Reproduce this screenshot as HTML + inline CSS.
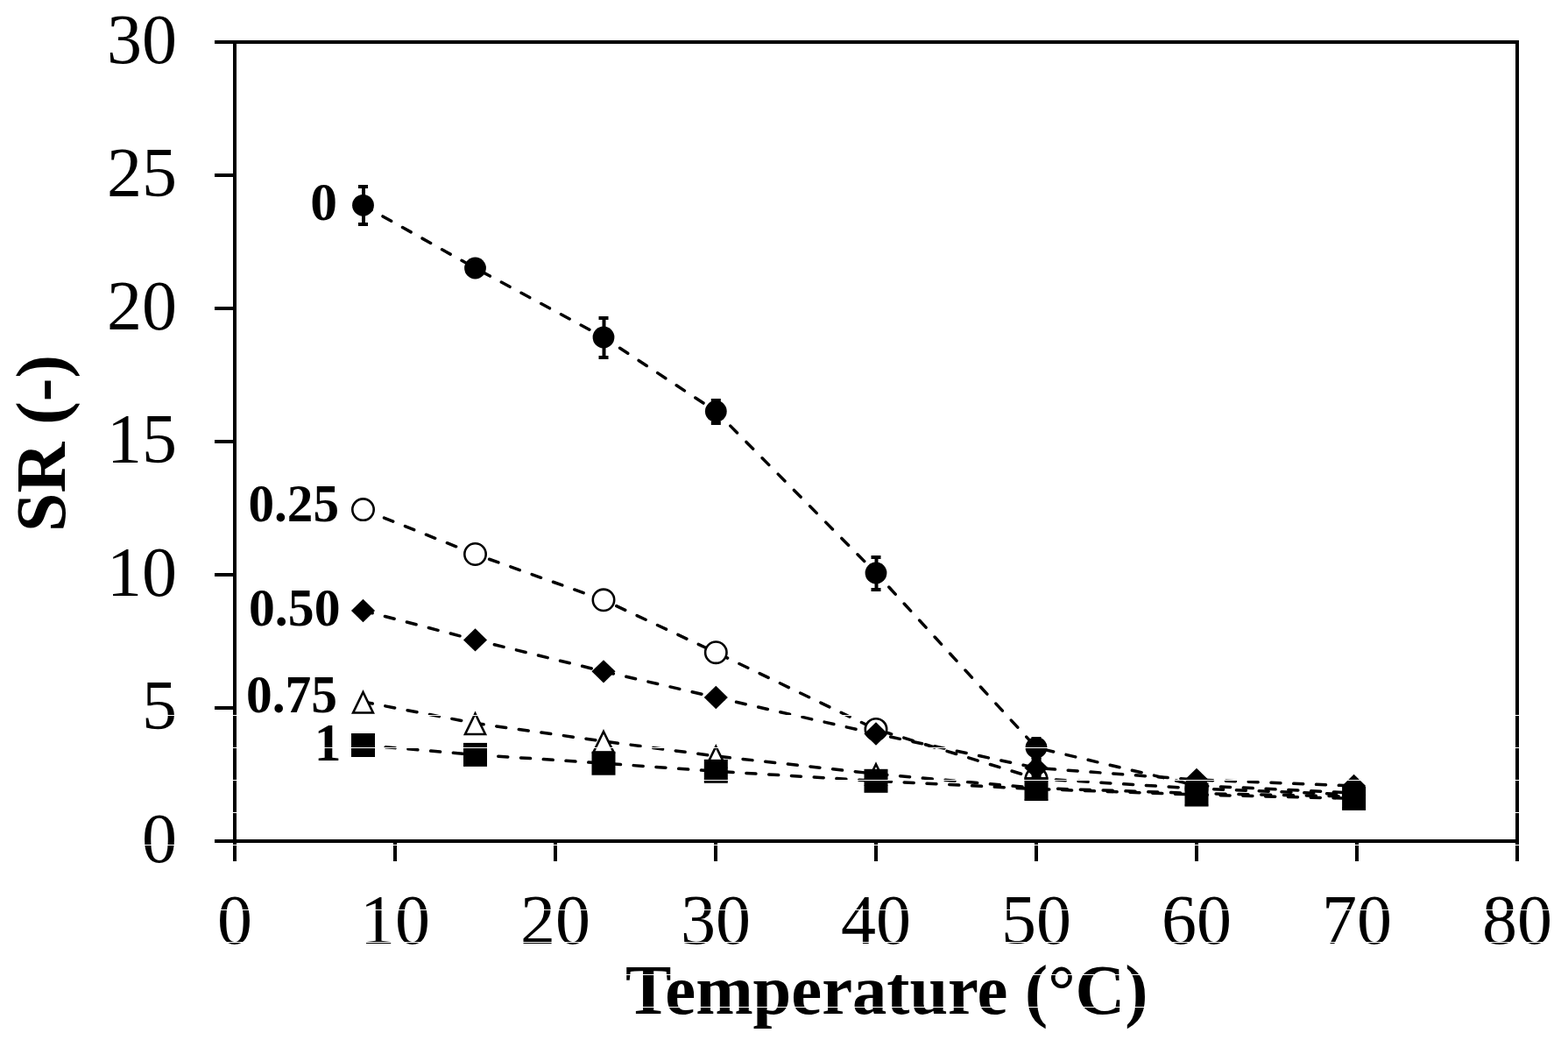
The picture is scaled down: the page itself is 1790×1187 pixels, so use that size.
<!DOCTYPE html>
<html lang="en"><head><meta charset="utf-8"><title>SR vs Temperature</title>
<style>
html,body{margin:0;padding:0;background:#fff;}
body{width:1790px;height:1187px;overflow:hidden;}
svg{display:block;}
text{font-family:"Liberation Serif","DejaVu Serif",serif;fill:#000;}
.tick{font-size:80px;}
.title{font-size:80px;font-weight:bold;}
.lab{font-size:61.5px;font-weight:bold;}
.ln{fill:none;stroke:#000;stroke-width:3.5;stroke-dasharray:11 14.8;stroke-linecap:round;stroke-linejoin:round;}
.ax{fill:#000;}
</style></head><body>
<svg width="1790" height="1187" viewBox="0 0 1790 1187">
<rect x="0" y="0" width="1790" height="1187" fill="#fff"/>
<g class="ax" shape-rendering="crispEdges">
<rect x="245" y="46" width="1489" height="4"/>
<rect x="245" y="958" width="1489" height="4"/>
<rect x="266" y="46" width="4" height="937"/>
<rect x="1730" y="46" width="4" height="937"/>
<rect x="245" y="806" width="23" height="4"/>
<rect x="245" y="654" width="23" height="4"/>
<rect x="245" y="502" width="23" height="4"/>
<rect x="245" y="350" width="23" height="4"/>
<rect x="245" y="198" width="23" height="4"/>
<rect x="449" y="960" width="4" height="23"/>
<rect x="632" y="960" width="4" height="23"/>
<rect x="815" y="960" width="4" height="23"/>
<rect x="998" y="960" width="4" height="23"/>
<rect x="1181" y="960" width="4" height="23"/>
<rect x="1364" y="960" width="4" height="23"/>
<rect x="1547" y="960" width="4" height="23"/>
</g>
<text class="tick" x="202" y="984" text-anchor="end">0</text>
<text class="tick" x="202" y="832" text-anchor="end">5</text>
<text class="tick" x="202" y="680" text-anchor="end">10</text>
<text class="tick" x="202" y="528" text-anchor="end">15</text>
<text class="tick" x="202" y="376" text-anchor="end">20</text>
<text class="tick" x="202" y="224" text-anchor="end">25</text>
<text class="tick" x="202" y="72" text-anchor="end">30</text>
<text class="tick" x="268" y="1077" text-anchor="middle">0</text>
<text class="tick" x="451" y="1077" text-anchor="middle">10</text>
<text class="tick" x="634" y="1077" text-anchor="middle">20</text>
<text class="tick" x="817" y="1077" text-anchor="middle">30</text>
<text class="tick" x="1000" y="1077" text-anchor="middle">40</text>
<text class="tick" x="1183" y="1077" text-anchor="middle">50</text>
<text class="tick" x="1366" y="1077" text-anchor="middle">60</text>
<text class="tick" x="1549" y="1077" text-anchor="middle">70</text>
<text class="tick" x="1732" y="1077" text-anchor="middle">80</text>
<text class="title" transform="translate(1012.3,1157) scale(0.982,1)" text-anchor="middle">Temperature (°C)</text>
<text class="title" transform="translate(73.5,506) rotate(-90)" text-anchor="middle">SR (-)</text>
<polyline class="ln" points="414.5,234.3 542.5,306.0 689.0,385.0 817.3,469.5 1000.0,654.0 1183.0,853.3 1366.0,896.6 1545.6,905.0"/>
<rect x="413.0" y="211" width="4" height="47"/>
<rect x="409.0" y="211" width="11" height="4"/>
<rect x="409.0" y="254" width="11" height="4"/>
<circle cx="414.5" cy="234.3" r="12.4"/>
<circle cx="542.5" cy="306.0" r="12.4"/>
<rect x="687.5" y="361" width="4" height="49"/>
<rect x="683.5" y="361" width="11" height="4"/>
<rect x="683.5" y="406" width="11" height="4"/>
<circle cx="689.0" cy="385.0" r="12.4"/>
<rect x="815.8" y="455" width="4" height="30"/>
<rect x="811.8" y="455" width="11" height="4"/>
<rect x="811.8" y="481" width="11" height="4"/>
<circle cx="817.3" cy="469.5" r="12.4"/>
<rect x="998.5" y="634" width="4" height="41"/>
<rect x="994.5" y="634" width="11" height="4"/>
<rect x="994.5" y="671" width="11" height="4"/>
<circle cx="1000.0" cy="654.0" r="12.4"/>
<rect x="1181.5" y="841" width="4" height="25"/>
<rect x="1177.5" y="841" width="11" height="4"/>
<rect x="1177.5" y="862" width="11" height="4"/>
<circle cx="1183.0" cy="853.3" r="12.4"/>
<circle cx="1366.0" cy="896.6" r="12.4"/>
<circle cx="1545.6" cy="905.0" r="12.4"/>
<polyline class="ln" points="414.5,581.6 542.5,632.5 689.0,684.8 817.3,744.7 1000.0,832.4 1183.0,888.6 1366.0,900.0 1545.6,907.0"/>
<circle cx="414.5" cy="581.6" r="12.2" fill="#fff" stroke="#000" stroke-width="2.6"/>
<circle cx="542.5" cy="632.5" r="12.2" fill="#fff" stroke="#000" stroke-width="2.6"/>
<circle cx="689.0" cy="684.8" r="12.2" fill="#fff" stroke="#000" stroke-width="2.6"/>
<circle cx="817.3" cy="744.7" r="12.2" fill="#fff" stroke="#000" stroke-width="2.6"/>
<circle cx="1000.0" cy="832.4" r="12.2" fill="#fff" stroke="#000" stroke-width="2.6"/>
<circle cx="1183.0" cy="888.6" r="12.2" fill="#fff" stroke="#000" stroke-width="2.6"/>
<circle cx="1366.0" cy="900.0" r="12.2" fill="#fff" stroke="#000" stroke-width="2.6"/>
<circle cx="1545.6" cy="907.0" r="12.2" fill="#fff" stroke="#000" stroke-width="2.6"/>
<polyline class="ln" points="414.5,697.0 542.5,730.4 689.0,766.3 817.3,796.0 1000.0,837.5 1183.0,876.5 1366.0,890.0 1545.6,897.0"/>
<polygon points="414.50,683.85 428.05,697.00 414.50,710.15 400.95,697.00"/>
<polygon points="542.50,717.25 556.05,730.40 542.50,743.55 528.95,730.40"/>
<polygon points="689.00,753.15 702.55,766.30 689.00,779.45 675.45,766.30"/>
<polygon points="817.30,782.85 830.85,796.00 817.30,809.15 803.75,796.00"/>
<polygon points="1000.00,824.35 1013.55,837.50 1000.00,850.65 986.45,837.50"/>
<polygon points="1183.00,863.35 1196.55,876.50 1183.00,889.65 1169.45,876.50"/>
<polygon points="1366.00,876.85 1379.55,890.00 1366.00,903.15 1352.45,890.00"/>
<polygon points="1545.60,883.85 1559.15,897.00 1545.60,910.15 1532.05,897.00"/>
<rect x="1181.5" y="865" width="4" height="22"/>
<rect x="1177.6" y="883" width="11" height="4"/>
<rect x="1177.6" y="865" width="11" height="4"/>
<polyline class="ln" points="414.5,801.0 542.5,825.5 689.0,846.0 817.3,863.0 1000.0,883.3 1183.0,899.5 1366.0,905.5 1545.6,909.0"/>
<polygon points="414.5,790.0 425.9,813.5 403.1,813.5" fill="#fff" stroke="#000" stroke-width="2.6" stroke-linejoin="miter"/>
<polygon points="542.5,814.5 554.0,838.0 531.0,838.0" fill="#fff" stroke="#000" stroke-width="2.6" stroke-linejoin="miter"/>
<polygon points="689.0,835.0 700.5,858.5 677.5,858.5" fill="#fff" stroke="#000" stroke-width="2.6" stroke-linejoin="miter"/>
<polygon points="817.3,852.0 828.8,875.5 805.8,875.5" fill="#fff" stroke="#000" stroke-width="2.6" stroke-linejoin="miter"/>
<polygon points="1000.0,872.3 1011.5,895.8 988.5,895.8" fill="#fff" stroke="#000" stroke-width="2.6" stroke-linejoin="miter"/>
<polygon points="1183.0,888.5 1194.5,912.0 1171.5,912.0" fill="#fff" stroke="#000" stroke-width="2.6" stroke-linejoin="miter"/>
<polygon points="1366.0,894.5 1377.5,918.0 1354.5,918.0" fill="#fff" stroke="#000" stroke-width="2.6" stroke-linejoin="miter"/>
<polygon points="1545.6,898.0 1557.0,921.5 1534.1,921.5" fill="#fff" stroke="#000" stroke-width="2.6" stroke-linejoin="miter"/>
<polyline class="ln" points="414.5,850.5 542.5,861.4 689.0,871.2 817.3,880.3 1000.0,891.3 1183.0,900.5 1366.0,907.0 1545.6,911.4"/>
<rect x="401.0" y="837.0" width="27" height="27"/>
<rect x="529.0" y="847.9" width="27" height="27"/>
<rect x="675.5" y="857.7" width="27" height="27"/>
<rect x="803.8" y="866.8" width="27" height="27"/>
<rect x="986.5" y="877.8" width="27" height="27"/>
<rect x="1169.5" y="887.0" width="27" height="27"/>
<rect x="1352.5" y="893.5" width="27" height="27"/>
<rect x="1532.1" y="897.9" width="27" height="27"/>
<text class="lab" x="385.0" y="250.5" text-anchor="end">0</text>
<text class="lab" x="387.0" y="594.5" text-anchor="end" textLength="103.5" lengthAdjust="spacingAndGlyphs">0.25</text>
<text class="lab" x="388.5" y="713.5" text-anchor="end" textLength="104.5" lengthAdjust="spacingAndGlyphs">0.50</text>
<text class="lab" x="385.0" y="812.5" text-anchor="end" textLength="104.0" lengthAdjust="spacingAndGlyphs">0.75</text>
<text class="lab" x="389.5" y="868.0" text-anchor="end">1</text>
<g fill="#fff" shape-rendering="crispEdges">
<rect x="0" y="816" width="1790" height="1"/>
<rect x="0" y="853" width="1790" height="1"/>
<rect x="0" y="890" width="1790" height="1"/>
<rect x="0" y="927" width="1790" height="1"/>
<rect x="0" y="964" width="1790" height="1"/>
<rect x="0" y="1001" width="1790" height="1"/>
<rect x="0" y="1038" width="1790" height="1"/>
<rect x="0" y="1075" width="1790" height="1"/>
<rect x="0" y="1112" width="1790" height="1"/>
<rect x="0" y="1149" width="1790" height="1"/>
<rect x="0" y="1186" width="1790" height="1"/>
</g>
</svg>
</body></html>
